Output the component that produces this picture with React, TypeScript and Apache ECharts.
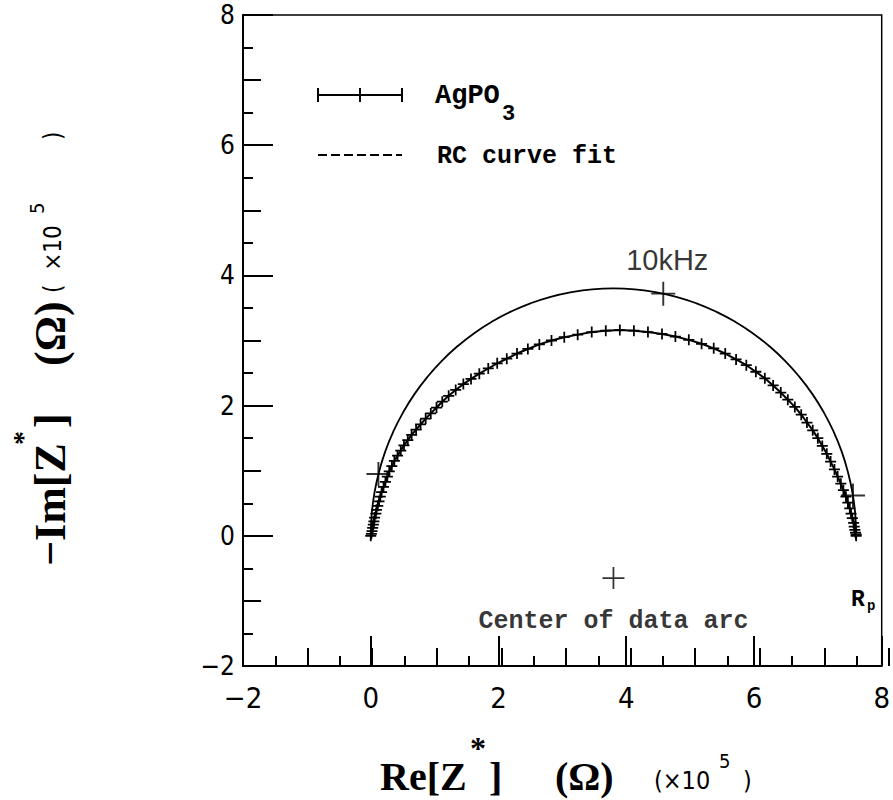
import React, { useEffect, useRef } from 'react';
import * as echarts from 'echarts';

// AgPO3 measured impedance arc (Re, -Im) in units of 1e5 ohm
const agpo3Re = [0.00, 0.01, 0.02, 0.03, 0.04, 0.05, 0.06, 0.08, 0.09, 0.11, 0.13, 0.15, 0.17, 0.20, 0.23, 0.26, 0.29, 0.33, 0.37, 0.42, 0.47, 0.52, 0.58, 0.64, 0.71, 0.78, 0.86, 0.94, 1.03, 1.12, 1.22, 1.33, 1.45, 1.57, 1.70, 1.84, 1.98, 2.13, 2.29, 2.46, 2.64, 2.83, 3.03, 3.24, 3.46, 3.68, 3.90, 4.12, 4.34, 4.56, 4.77, 4.98, 5.18, 5.37, 5.55, 5.72, 5.88, 6.03, 6.17, 6.30, 6.42, 6.53, 6.64, 6.74, 6.83, 6.92, 7.00, 7.07, 7.14, 7.20, 7.26, 7.31, 7.36, 7.40, 7.44, 7.47, 7.50, 7.52, 7.54, 7.56, 7.57, 7.58, 7.59, 7.60, 7.60];
const agpo3Im = [0.00, 0.03, 0.07, 0.12, 0.17, 0.22, 0.28, 0.34, 0.40, 0.46, 0.53, 0.60, 0.67, 0.75, 0.83, 0.91, 0.99, 1.07, 1.15, 1.23, 1.31, 1.39, 1.47, 1.55, 1.63, 1.71, 1.80, 1.88, 1.97, 2.06, 2.15, 2.24, 2.33, 2.41, 2.49, 2.57, 2.65, 2.72, 2.80, 2.87, 2.94, 3.00, 3.05, 3.09, 3.13, 3.15, 3.16, 3.15, 3.13, 3.10, 3.06, 3.01, 2.95, 2.88, 2.80, 2.71, 2.62, 2.52, 2.42, 2.31, 2.20, 2.09, 1.98, 1.86, 1.74, 1.62, 1.50, 1.38, 1.26, 1.14, 1.02, 0.91, 0.80, 0.70, 0.60, 0.51, 0.42, 0.34, 0.27, 0.20, 0.14, 0.09, 0.05, 0.02, 0.00];

// RC curve fit
const fitRe = [0.00, 0.015, 0.058, 0.13, 0.229, 0.356, 0.509, 0.687, 0.889, 1.113, 1.357, 1.62, 1.90, 2.194, 2.50, 2.817, 3.14, 3.469, 3.80, 4.131, 4.46, 4.783, 5.10, 5.406, 5.70, 5.98, 6.243, 6.487, 6.711, 6.913, 7.091, 7.244, 7.371, 7.47, 7.542, 7.586, 7.60];
const fitIm = [0.00, 0.331, 0.66, 0.983, 1.30, 1.606, 1.90, 2.18, 2.443, 2.687, 2.911, 3.113, 3.291, 3.444, 3.571, 3.671, 3.742, 3.786, 3.80, 3.786, 3.742, 3.671, 3.571, 3.444, 3.291, 3.113, 2.911, 2.687, 2.443, 2.18, 1.90, 1.606, 1.30, 0.983, 0.66, 0.331, 0.00];

// frequency marks on the fit
const fitMarkRe = [0.12, 4.58, 7.55];
const fitMarkIm = [0.95, 3.72, 0.62];
const fitMarkLabels = ['', '10kHz', ''];

// center of data arc
const centerRe = [3.8];
const centerIm = [-0.65];
const centerLabel = 'Center of data arc';

const axisMin = -2;
const axisMax = 8;
const legendNames = ['AgPO', '3', 'RC curve fit'];

const PLUS_SMALL = 'path://M8.4,0h3.2v20h-3.2zM0,8.4h20v3.2h-20z';
const PLUS_BIG = 'path://M9.2,0h1.6v20h-1.6zM0,9.2h20v1.6h-20z';

const TICK_FONT = "'Liberation Sans Narrow','DejaVu Sans Condensed','Liberation Sans',sans-serif";
const MONO = "'Liberation Mono','DejaVu Sans Mono',monospace";
const SERIF = "'Liberation Serif','DejaVu Serif',serif";

const GRID = { left: 243, right: 4, top: 15, bottom: 134 };

function mkAxis(dim: 'x' | 'y', gridIndex: number, interval: number, len: number, main: boolean) {
  return {
    type: 'value',
    gridIndex,
    min: axisMin,
    max: axisMax,
    interval,
    position: dim === 'x' ? 'bottom' : 'left',
    axisLine: { show: main, onZero: false, lineStyle: { color: '#000', width: 2 } },
    axisTick: { show: true, inside: true, length: len, lineStyle: { color: '#000', width: 2 } },
    axisLabel: {
      show: main,
      color: '#000',
      fontFamily: TICK_FONT,
      fontSize: dim === 'x' ? 29 : 26,
      margin: dim === 'x' ? 17 : 8,
      formatter: (v: number) => String(v).replace('-', '\u2212'),
    },
    splitLine: { show: false },
  };
}

function txt(x: number, y: number, text: string, size: number, family: string, opts: any = {}) {
  return {
    type: 'text',
    x,
    y,
    rotation: opts.rotation || 0,
    silent: true,
    style: {
      text,
      fontSize: size,
      fontFamily: family,
      fontWeight: opts.weight || 'bold',
      fill: '#000',
      align: opts.align || 'left',
      textAlign: opts.align || 'left',
      verticalAlign: 'middle',
      textVerticalAlign: 'middle',
    },
  };
}

export default function App() {
  const ref = useRef<HTMLDivElement>(null);
  useEffect(() => {
    if (!ref.current) return;
    const chart = echarts.init(ref.current, undefined, { renderer: 'svg' });
    const dataPts = agpo3Re.map((x, i) => [x, agpo3Im[i]]);
    const fitPts = fitRe.map((x, i) => [x, fitIm[i]]);
    const markPts = fitMarkRe.map((x, i) => ({
      value: [x, fitMarkIm[i]],
      label: fitMarkLabels[i]
        ? {
            show: true,
            formatter: fitMarkLabels[i],
            position: 'top',
            distance: 7,
            offset: [4, 0],
            color: '#000',
            fontFamily: "'Liberation Sans','DejaVu Sans',sans-serif",
            fontSize: 29,
          }
        : { show: false },
    }));
    const centerPts = centerRe.map((x, i) => [x, centerIm[i]]);
    const PI2 = Math.PI / 2;

    const graphics: any[] = [
      // legend sample AgPO3
      { type: 'line', silent: true, shape: { x1: 318, y1: 95, x2: 402, y2: 95 }, style: { stroke: '#000', lineWidth: 2 } },
      ...[318, 360, 402].map((px) => ({ type: 'line', silent: true, shape: { x1: px, y1: 88, x2: px, y2: 102 }, style: { stroke: '#000', lineWidth: 2 } })),
      txt(435, 96, legendNames[0], 27, MONO),
      txt(502, 114, legendNames[1], 22, MONO),
      // legend sample RC fit
      { type: 'line', silent: true, shape: { x1: 318, y1: 155, x2: 402, y2: 155 }, style: { stroke: '#000', lineWidth: 2, lineDash: [9, 4] } },
      txt(437, 156, legendNames[2], 25, MONO),
      // R_p
      txt(851, 600, 'R', 23, MONO),
      txt(867, 606, 'p', 14, MONO),
      // x title
      txt(380, 776, 'Re[Z', 40, SERIF),
      txt(478, 748, '*', 32, SERIF, { align: 'center' }),
      txt(489, 776, ']', 40, SERIF),
      txt(555, 776, '(\u03A9)', 40, SERIF),
      txt(654, 780, '(\u00D710', 25, TICK_FONT, { weight: 'normal' }),
      txt(719, 761, '5', 20, TICK_FONT, { weight: 'normal' }),
      txt(743, 780, ')', 25, TICK_FONT, { weight: 'normal' }),
      // y title (rotated)
      txt(50, 566, '\u2212Im[Z', 44, SERIF, { rotation: PI2 }),
      txt(22, 438, '*', 28, SERIF, { rotation: PI2, align: 'center' }),
      txt(50, 428, ']', 44, SERIF, { rotation: PI2 }),
      txt(50, 366, '(\u03A9)', 44, SERIF, { rotation: PI2 }),
      txt(53, 293, '(  \u00D710', 24, TICK_FONT, { rotation: PI2, weight: 'normal' }),
      txt(37, 214, '5', 20, TICK_FONT, { rotation: PI2, weight: 'normal' }),
      txt(53, 140, ')', 24, TICK_FONT, { rotation: PI2, weight: 'normal' }),
    ];

    chart.setOption({
      animation: false,
      backgroundColor: '#fff',
      grid: [
        { ...GRID, show: true, borderColor: '#000', borderWidth: 1.5, backgroundColor: 'transparent' },
        { ...GRID },
        { ...GRID },
      ],
      xAxis: [mkAxis('x', 0, 2, 30, true), mkAxis('x', 1, 1, 18, false), mkAxis('x', 2, 0.5, 10, false)],
      yAxis: [mkAxis('y', 0, 2, 30, true), mkAxis('y', 1, 1, 18, false), mkAxis('y', 2, 0.5, 10, false)],
      series: [
        {
          name: 'RC curve fit',
          type: 'line',
          xAxisIndex: 0,
          yAxisIndex: 0,
          data: fitPts,
          smooth: true,
          showSymbol: false,
          symbol: 'none',
          lineStyle: { color: '#000', width: 1.8 },
          z: 2,
        },
        {
          name: 'AgPO3',
          type: 'line',
          xAxisIndex: 0,
          yAxisIndex: 0,
          data: dataPts,
          symbol: PLUS_SMALL,
          symbolSize: 11,
          showAllSymbol: true,
          itemStyle: { color: '#000' },
          lineStyle: { color: '#000', width: 2 },
          z: 3,
        },
        {
          name: 'fit marks',
          type: 'scatter',
          xAxisIndex: 0,
          yAxisIndex: 0,
          data: markPts,
          symbol: PLUS_BIG,
          symbolSize: 24,
          itemStyle: { color: '#000' },
          z: 4,
        },
        {
          name: 'center',
          type: 'scatter',
          xAxisIndex: 0,
          yAxisIndex: 0,
          data: centerPts,
          symbol: PLUS_BIG,
          symbolSize: 22,
          itemStyle: { color: '#000' },
          label: {
            show: true,
            formatter: centerLabel,
            position: 'bottom',
            distance: 20,
            color: '#000',
            fontFamily: MONO,
            fontWeight: 'bold',
            fontSize: 25,
          },
          z: 4,
        },
      ],
      graphic: graphics,
    });
    return () => chart.dispose();
  }, []);
  return <div ref={ref} style={{ position: 'fixed', left: 0, top: 0, width: 893, height: 800, background: '#fff' }} />;
}
